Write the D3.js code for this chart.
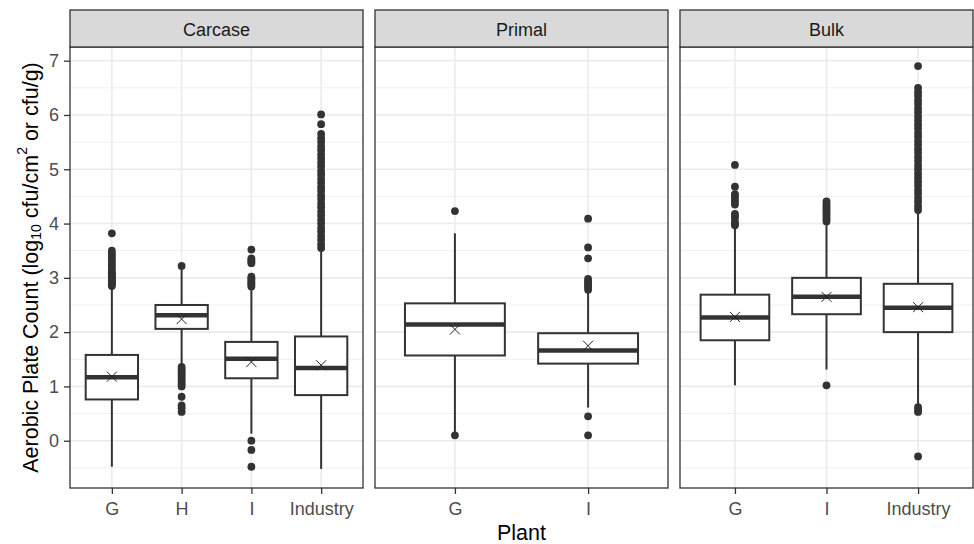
<!DOCTYPE html>
<html>
<head>
<meta charset="utf-8">
<script src="https://cdn.jsdelivr.net/npm/d3@7"></script>
<style>
  body { margin: 0; background: #fff; }
  svg { font-family: "Liberation Sans", Arial, sans-serif; }
</style>
</head>
<body>
<svg width="974" height="544"></svg>
<script>
// facets and the plants shown in each
var facets = ["Carcase", "Primal", "Bulk"];
var plants = [["G", "H", "I", "Industry"], ["G", "I"], ["G", "I", "Industry"]];

// box statistics (log10 units)
var q1    = [[0.76, 2.06, 1.15, 0.84], [1.57, 1.42], [1.85, 2.33, 2.00]];
var med   = [[1.17, 2.31, 1.51, 1.34], [2.14, 1.66], [2.27, 2.65, 2.45]];
var q3    = [[1.58, 2.50, 1.82, 1.92], [2.53, 1.98], [2.69, 3.00, 2.89]];
var lower = [[-0.48, 1.40, 0.13, -0.52], [0.13, 0.61], [1.02, 1.31, 0.66]];
var upper = [[2.81, 3.16, 2.80, 3.52], [3.82, 2.72], [3.93, 4.00, 4.20]];
var means = [[1.18, 2.24, 1.45, 1.39], [2.05, 1.75], [2.28, 2.65, 2.46]];

var outliers = [
  [
    [2.85, 2.88, 2.9, 2.93, 2.95, 2.98, 3.0, 3.03, 3.05, 3.08, 3.1, 3.15, 3.2, 3.25, 3.3, 3.35, 3.4, 3.45, 3.5, 3.82],
    [3.22, 1.36, 1.32, 1.28, 1.24, 1.2, 1.16, 1.12, 1.08, 1.04, 1.0, 0.81, 0.65, 0.6, 0.53],
    [2.84, 2.87, 2.9, 2.93, 2.96, 2.99, 3.02, 3.27, 3.3, 3.33, 3.36, 3.52, 0.0, -0.17, -0.48],
    [3.55, 3.62, 3.7, 3.77, 3.85, 3.92, 4.0, 4.07, 4.15, 4.22, 4.3, 4.37, 4.45, 4.52, 4.6, 4.67, 4.75, 4.82, 4.9, 4.97,
     5.05, 5.12, 5.2, 5.27, 5.35, 5.42, 5.5, 5.57, 5.65, 5.83, 6.01]
  ],
  [
    [4.23, 0.1],
    [2.78, 2.82, 2.86, 2.9, 2.94, 2.98, 3.36, 3.56, 4.09, 0.45, 0.1]
  ],
  [
    [3.97, 4.0, 4.03, 4.1, 4.14, 4.18, 4.35, 4.4, 4.45, 4.5, 4.54, 4.68, 5.08],
    [4.04, 4.08, 4.12, 4.16, 4.2, 4.24, 4.28, 4.32, 4.36, 4.41, 1.02],
    [4.25, 4.32, 4.4, 4.47, 4.55, 4.62, 4.7, 4.77, 4.85, 4.92, 5.0, 5.07, 5.15, 5.22, 5.3, 5.37, 5.45, 5.52, 5.6, 5.67,
     5.75, 5.82, 5.9, 5.97, 6.05, 6.12, 6.2, 6.27, 6.35, 6.42, 6.5, 6.9, 0.62, 0.57, 0.53, -0.29]
  ]
];

var yTicks = [0, 1, 2, 3, 4, 5, 6, 7];
var yMinor = [-0.5, 0.5, 1.5, 2.5, 3.5, 4.5, 5.5, 6.5];

var svg = d3.select("svg");
var padL = 70, padT = 47, padB = 488, stripH = 37, gap = 12;
var panelW = (973 - padL - gap * 2) / 3;

var y = d3.scaleLinear().domain([-0.871, 7.252]).range([padB, padT]);

facets.forEach(function(facet, i) {
    var x0 = padL + i * (panelW + gap);
    var x = d3.scalePoint().domain(plants[i]).range([x0, x0 + panelW]).padding(0.6);
    var boxW = x.step() * 0.75;
    var g = svg.append("g");

    // background grid
    g.selectAll(".minor").data(yMinor).enter().append("line")
        .attr("x1", x0).attr("x2", x0 + panelW)
        .attr("y1", function(d) { return y(d); }).attr("y2", function(d) { return y(d); })
        .attr("stroke", "#ebebeb").attr("stroke-width", 0.8);
    g.selectAll(".major").data(yTicks).enter().append("line")
        .attr("x1", x0).attr("x2", x0 + panelW)
        .attr("y1", function(d) { return y(d); }).attr("y2", function(d) { return y(d); })
        .attr("stroke", "#ebebeb").attr("stroke-width", 1.6);
    g.selectAll(".vmajor").data(plants[i]).enter().append("line")
        .attr("x1", function(d) { return x(d); }).attr("x2", function(d) { return x(d); })
        .attr("y1", padT).attr("y2", padB)
        .attr("stroke", "#ebebeb").attr("stroke-width", 1.6);

    // boxes
    plants[i].forEach(function(p, j) {
        var cx = x(p);
        g.append("line").attr("x1", cx).attr("x2", cx)
            .attr("y1", y(upper[i][j])).attr("y2", y(q3[i][j]))
            .attr("stroke", "#333").attr("stroke-width", 2);
        g.append("line").attr("x1", cx).attr("x2", cx)
            .attr("y1", y(q1[i][j])).attr("y2", y(lower[i][j]))
            .attr("stroke", "#333").attr("stroke-width", 2);
        g.selectAll(null).data(outliers[i][j]).enter().append("circle")
            .attr("cx", cx).attr("cy", function(d) { return y(d); })
            .attr("r", 3.9).attr("fill", "#333");
        g.append("rect")
            .attr("x", cx - boxW / 2).attr("width", boxW)
            .attr("y", y(q3[i][j])).attr("height", y(q1[i][j]) - y(q3[i][j]))
            .attr("fill", "#fff").attr("stroke", "#333").attr("stroke-width", 2);
        g.append("line").attr("x1", cx - boxW / 2).attr("x2", cx + boxW / 2)
            .attr("y1", y(med[i][j])).attr("y2", y(med[i][j]))
            .attr("stroke", "#333").attr("stroke-width", 4.5);
        // mean marker (x)
        var my = y(means[i][j]), s = 5;
        g.append("path")
            .attr("d", "M" + (cx - s) + "," + (my - s) + "L" + (cx + s) + "," + (my + s) +
                       "M" + (cx - s) + "," + (my + s) + "L" + (cx + s) + "," + (my - s))
            .attr("stroke", "#222").attr("stroke-width", 1).attr("fill", "none");
    });

    // panel border and strip
    g.append("rect").attr("x", x0).attr("y", padT).attr("width", panelW).attr("height", padB - padT)
        .attr("fill", "none").attr("stroke", "#333").attr("stroke-width", 1.3);
    g.append("rect").attr("x", x0).attr("y", padT - stripH).attr("width", panelW).attr("height", stripH)
        .attr("fill", "#d9d9d9").attr("stroke", "#333").attr("stroke-width", 1.3);
    g.append("text").attr("x", x0 + panelW / 2).attr("y", padT - stripH / 2 + 1)
        .attr("text-anchor", "middle").attr("dominant-baseline", "central")
        .attr("font-size", 18).attr("fill", "#1a1a1a").text(facet);

    // x axis
    var xAxis = d3.axisBottom(x).tickSize(6).tickPadding(8);
    var ax = g.append("g").attr("transform", "translate(0," + padB + ")").call(xAxis);
    ax.select(".domain").remove();
    ax.selectAll(".tick line").attr("stroke", "#333").attr("stroke-width", 1.3);
    ax.selectAll(".tick text").attr("font-size", 18).attr("fill", "#4d4d4d")
        .attr("font-family", "Liberation Sans, Arial, sans-serif");
});

// y axis on the first panel
var yAxis = d3.axisLeft(y).tickValues(yTicks).tickSize(6).tickPadding(5);
var ay = svg.append("g").attr("transform", "translate(" + padL + ",0)").call(yAxis);
ay.select(".domain").remove();
ay.selectAll(".tick line").attr("stroke", "#333").attr("stroke-width", 1.3);
ay.selectAll(".tick text").attr("font-size", 18).attr("fill", "#4d4d4d")
    .attr("font-family", "Liberation Sans, Arial, sans-serif");

// axis titles
svg.append("text").attr("x", padL + (973 - padL) / 2).attr("y", 533)
    .attr("text-anchor", "middle").attr("dominant-baseline", "central")
    .attr("font-size", 21.5).attr("fill", "#000").text("Plant");

var yt = svg.append("text")
    .attr("transform", "translate(31," + (padT + padB) / 2 + ") rotate(-90)")
    .attr("text-anchor", "middle").attr("dominant-baseline", "central")
    .attr("font-size", 21.5).attr("fill", "#000");
yt.append("tspan").text("Aerobic Plate Count (log");
yt.append("tspan").attr("font-size", 14).attr("dy", 5).text("10");
yt.append("tspan").attr("dy", -5).text(" cfu/cm");
yt.append("tspan").attr("font-size", 14).attr("dy", -9).text("2");
yt.append("tspan").attr("dy", 9).text(" or cfu/g)");
</script>
</body>
</html>
